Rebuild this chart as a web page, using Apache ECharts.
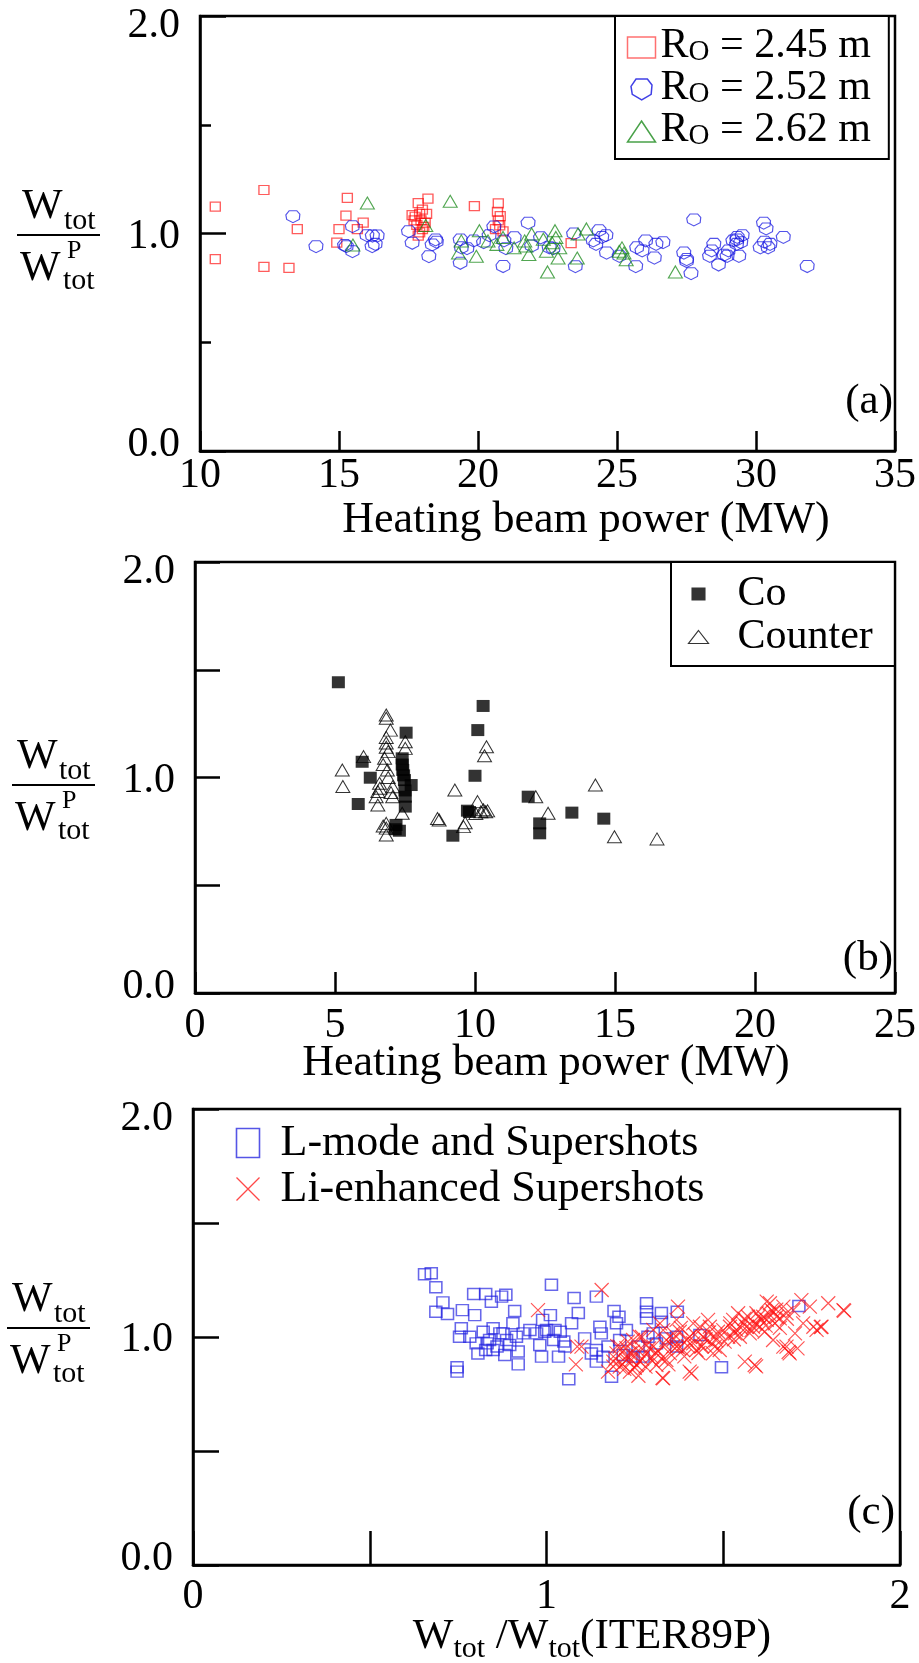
<!DOCTYPE html>
<html><head><meta charset="utf-8">
<script src="https://cdn.jsdelivr.net/npm/echarts@6/dist/echarts.min.js"></script>
<style>html,body{margin:0;padding:0;background:#fff}#c{width:919px;height:1663px}</style>
</head><body><div id="c"></div>
<script>
// ---------- Panel (a): heating beam power (MW) vs Wtot/WtotP ----------
const ro245 = [[10.55,1.124],[10.55,0.882],[12.3,1.20],[12.3,0.847],[13.2,0.842],[13.5,1.02],[15.3,1.164],[15.25,1.082],[15.0,1.02],[14.92,0.958],[15.66,1.02],[15.87,1.05],[17.85,1.14],[18.2,1.16],[17.74,1.077],[17.95,1.06],[17.8,1.04],[18.05,1.03],[17.9,1.005],[18.15,1.09],[17.63,1.085],[18.0,1.11],[17.85,0.99],[18.1,1.05],[17.7,1.06],[17.9,1.09],[18.0,1.02],[19.87,1.126],[20.73,1.139],[20.7,1.10],[20.73,1.06],[20.78,1.037],[20.63,1.02],[20.9,1.01],[20.8,1.08],[23.35,0.956]];
const ro252 = [[13.34,1.077],[14.17,0.939],[15.48,1.031],[15.26,0.939],[15.48,0.916],[15.2,0.945],[16.2,0.988],[16.19,0.939],[16.37,0.988],[16.0,0.99],[16.3,0.95],[17.5,1.008],[17.63,0.955],[18.47,0.97],[18.23,0.893],[18.35,0.947],[18.5,0.96],[19.36,0.97],[19.4,0.934],[19.36,0.863],[19.6,0.93],[19.84,0.966],[20.2,0.958],[20.4,0.99],[20.57,1.03],[20.9,0.848],[20.93,0.966],[21.0,0.93],[21.3,0.98],[21.8,1.047],[21.93,0.942],[22.25,0.98],[22.56,0.934],[22.7,0.93],[23.44,0.998],[23.5,0.847],[24.14,0.966],[24.35,1.013],[24.45,0.982],[24.24,0.95],[24.6,0.99],[24.62,0.91],[25.08,0.895],[25.71,0.934],[25.67,0.847],[25.9,0.92],[26.03,0.966],[26.34,0.887],[26.4,0.95],[26.65,0.958],[27.4,0.91],[27.5,0.871],[27.5,0.88],[27.66,0.815],[27.76,1.062],[28.33,0.895],[28.4,0.92],[28.48,0.95],[28.65,0.855],[28.85,0.90],[28.96,0.895],[29.0,0.92],[29.17,0.966],[29.3,0.95],[29.31,0.97],[29.32,0.982],[29.45,0.958],[29.38,0.895],[29.5,0.99],[30.15,0.934],[30.27,1.047],[30.3,0.96],[30.36,1.021],[30.43,0.934],[30.5,0.95],[30.98,0.982],[31.84,0.848]];
const ro262 = [[16.02,1.14],[15.5,0.947],[19.0,1.148],[18.12,1.037],[19.3,0.91],[19.4,0.966],[19.94,0.895],[20.05,1.013],[20.36,0.966],[20.68,0.95],[20.9,0.982],[21.3,0.934],[21.68,0.966],[21.72,0.942],[21.83,0.903],[21.93,0.998],[22.35,0.974],[22.46,0.918],[22.5,0.823],[22.66,0.958],[22.77,1.013],[22.88,0.887],[22.94,0.934],[22.8,0.982],[23.57,0.887],[23.6,0.998],[23.9,1.021],[25.08,0.918],[25.18,0.934],[25.25,0.91],[25.33,0.879],[27.1,0.823]];

// ---------- Panel (b) ----------
const coBeam = [[5.12,1.442],[10.29,1.332],[10.1,1.22],[7.54,1.208],[5.97,1.073],[6.26,0.999],[5.83,0.877],[7.40,1.089],[7.42,1.035],[7.48,0.988],[7.72,0.965],[7.51,0.911],[7.51,0.865],[7.18,0.78],[7.3,0.753],[7.15,0.76],[7.4,1.06],[7.45,1.01],[7.5,0.94],[10.0,1.008],[9.73,0.846],[9.8,0.84],[9.21,0.73],[11.9,0.911],[12.31,0.787],[12.31,0.741],[13.46,0.837],[14.6,0.809]];
const counterBeam = [[5.26,1.035],[5.28,0.958],[6.02,1.097],[6.83,1.29],[6.83,1.275],[6.98,1.22],[6.83,1.186],[6.83,1.16],[6.83,1.14],[6.9,1.12],[7.51,1.166],[7.51,1.135],[6.77,1.089],[6.87,1.035],[6.72,1.06],[6.9,1.0],[6.59,0.973],[6.6,0.95],[6.53,0.935],[6.47,0.911],[6.53,0.872],[7.0,0.93],[7.06,0.957],[7.06,0.911],[7.4,0.834],[6.83,0.787],[6.83,0.765],[6.83,0.733],[6.72,0.775],[9.28,0.942],[8.72,0.803],[8.66,0.81],[9.59,0.772],[9.65,0.79],[10.41,1.143],[10.34,1.101],[10.09,0.888],[10.21,0.841],[10.3,0.85],[10.38,0.841],[10.45,0.845],[10.03,0.833],[12.17,0.911],[12.61,0.834],[14.3,0.965],[14.98,0.725],[16.5,0.715]];

// ---------- Panel (c) ----------
const lmode = [[0.655,1.275],[0.674,1.28],[0.687,1.218],[0.707,1.152],[0.687,1.111],[0.72,1.101],[0.762,1.118],[0.794,1.189],[0.828,1.189],[0.844,1.155],[0.873,1.177],[0.885,1.185],[0.91,1.114],[1.014,1.229],[1.078,1.171],[1.141,1.177],[0.797,1.096],[1.011,1.096],[1.09,1.105],[1.191,1.114],[1.205,1.089],[1.283,1.148],[1.283,1.111],[1.283,1.082],[1.325,1.105],[1.37,1.111],[1.325,1.067],[1.714,1.136],[1.495,0.867],[1.063,0.815],[0.747,0.867],[0.747,0.848],[0.92,0.88],[0.986,0.914],[1.034,0.914],[1.052,0.958],[0.92,0.936],[0.828,0.943],[0.832,0.972],[0.86,0.958],[0.887,0.987],[0.759,1.038],[0.783,1.001],[0.821,1.023],[0.849,1.038],[0.868,1.016],[0.905,1.06],[0.915,1.001],[0.953,1.031],[0.972,1.016],[0.989,1.075],[1.0,1.031],[1.024,1.031],[1.039,1.023],[1.071,1.06],[1.108,0.994],[1.151,1.045],[1.155,1.016],[1.141,0.943],[1.141,0.892],[1.16,0.914],[1.174,0.958],[1.184,0.826],[1.207,0.987],[1.217,0.921],[1.245,0.914],[1.273,0.914],[1.302,1.016],[1.311,0.972],[1.339,0.994],[1.368,1.001],[1.368,0.958],[1.434,1.009],[0.754,1.001],[0.801,0.972],[0.839,0.987],[0.877,1.016],[0.896,0.965],[0.934,1.016],[0.981,0.965],[1.02,0.987],[1.049,0.98],[0.806,0.928],[0.849,0.943],[0.882,0.921],[0.995,1.023],[1.127,0.928],[1.198,1.06],[1.226,1.031],[1.259,0.958],[1.287,1.001]];
const liSuper = [[1.156,1.206],[0.976,1.118],[1.083,0.88],[1.087,0.958],[1.099,0.958],[1.174,0.848],[1.189,0.892],[1.207,0.87],[1.226,0.899],[1.236,0.848],[1.245,0.936],[1.264,0.892],[1.283,0.965],[1.297,0.914],[1.311,0.877],[1.33,0.819],[1.339,0.987],[1.349,0.928],[1.368,0.958],[1.372,1.133],[1.377,1.023],[1.396,0.987],[1.405,0.848],[1.415,1.06],[1.424,0.943],[1.443,1.001],[1.457,1.075],[1.467,0.972],[1.476,0.958],[1.485,1.023],[1.504,0.98],[1.519,1.045],[1.528,1.075],[1.533,1.016],[1.542,1.104],[1.556,1.06],[1.561,0.892],[1.57,1.089],[1.584,1.045],[1.589,0.877],[1.594,1.104],[1.608,1.075],[1.617,1.023],[1.623,1.155],[1.637,1.118],[1.641,0.987],[1.651,1.089],[1.67,1.133],[1.679,0.958],[1.688,0.928],[1.703,1.016],[1.721,1.162],[1.745,1.133],[1.755,1.045],[1.778,1.045],[1.797,1.148],[1.84,1.118],[1.368,1.075],[1.198,0.928],[1.207,0.958],[1.245,0.987],[1.264,1.001],[1.302,1.031],[1.321,1.06],[1.358,1.016],[1.386,0.943],[1.405,1.001],[1.434,1.045],[1.462,1.045],[1.49,0.943],[1.471,0.928],[1.537,1.031],[1.575,1.016],[1.603,1.045],[1.623,1.075],[1.641,1.111],[1.66,1.082],[1.632,1.148],[1.698,1.118],[1.236,0.928],[1.283,0.928],[1.339,0.899],[1.302,0.958],[1.358,0.958],[1.415,0.972],[1.438,0.958],[1.476,1.001],[1.514,1.001],[1.547,1.001],[1.566,1.045],[1.589,1.06],[1.613,1.089],[1.646,1.06],[1.679,1.104],[1.726,1.06],[1.764,1.031],[1.67,0.958],[1.226,0.951],[1.189,0.87],[1.255,0.877],[1.311,0.928],[1.328,0.821],[1.41,0.84],[1.593,0.871],[1.685,0.934],[1.842,1.115],[1.776,1.044],[1.71,0.95],[1.195,0.905],[1.215,0.88],[1.225,0.915],[1.24,0.9],[1.25,0.865],[1.26,0.94],[1.27,0.905],[1.28,0.87],[1.29,0.95],[1.3,0.895],[1.315,0.94],[1.325,0.905],[1.335,0.965],[1.345,0.88],[1.36,0.99],[1.375,0.95],[1.39,0.915],[1.4,0.96],[1.42,1.01],[1.43,0.93],[1.45,0.99],[1.46,1.02],[1.48,0.985],[1.5,1.03],[1.52,1.06],[1.53,0.99],[1.55,1.04],[1.56,1.08],[1.58,1.03],[1.6,1.09],[1.62,1.05],[1.63,1.1],[1.65,1.12],[1.66,1.04],[1.68,1.08],[1.2,0.96],[1.23,0.98],[1.27,1.0],[1.33,1.03],[1.38,1.04],[1.44,0.96],[1.26,0.83],[1.22,0.86]];

// ---------- Axis ticks / labels ----------
const xTicksA = [10, 35, 5];
const xTicksB = [0, 25, 5];
const xTicksC = [0, 2, 0.5];
const yTicks = [0, 2, 0.5];
const yLabelText = {0: '0.0', 1: '1.0', 2: '2.0'};
const xTitleBeam = 'Heating beam power (MW)';
const panelTags = ['(a)', '(b)', '(c)'];

const FF = '"Liberation Serif", "Times New Roman", serif';
const BLK = '#000';
const hexPath = 'path://M24,0L78,0L100,29L96,73L51,100L6,73L0,35Z';
const crossPath = 'path://M0,0L100,100M100,0L0,100';

function xAxis(grid, t, tickLen, margin, fmt) {
  return {
    gridIndex: grid, type: 'value', min: t[0], max: t[1], interval: t[2],
    axisLine: {show: true, lineStyle: {color: BLK, width: 2.5}},
    axisTick: {show: true, inside: true, length: tickLen, lineStyle: {color: BLK, width: 2.5}},
    splitLine: {show: false},
    axisLabel: {fontFamily: FF, fontSize: 42, color: BLK, margin: margin, formatter: fmt || (v => String(v))}
  };
}
function yAxis(grid, tickLen, labels) {
  return {
    gridIndex: grid, type: 'value', min: yTicks[0], max: yTicks[1], interval: yTicks[2], position: 'left',
    axisLine: {show: true, lineStyle: {color: BLK, width: 2.5}},
    axisTick: {show: true, inside: true, length: tickLen, lineStyle: {color: BLK, width: 2.5}},
    splitLine: {show: false},
    axisLabel: {
      show: labels, margin: 20, fontFamily: FF, fontSize: 42, color: BLK,
      formatter: v => v === 2 ? '{hi|' + yLabelText[2] + '}' : v === 1 ? '{md|' + yLabelText[1] + '}' : v === 0 ? '{lo|' + yLabelText[0] + '}' : '',
      rich: {
        hi: {fontFamily: FF, fontSize: 42, color: BLK, padding: [20, 0, 0, 0]},
        md: {fontFamily: FF, fontSize: 42, color: BLK, padding: [6, 0, 0, 0]},
        lo: {fontFamily: FF, fontSize: 42, color: BLK, padding: [0, 0, 12, 0]}
      }
    }
  };
}

function frac(x0, yLine) {
  const f = (s, x, y, size) => ({type: 'text', x: x, y: y, silent: true,
    style: {text: s, font: size + 'px ' + FF, fill: BLK, align: 'left', verticalAlign: 'middle', textAlign: 'left', textVerticalAlign: 'middle'}});
  return [
    f('W', x0 + 5, yLine - 28, 43),
    f('tot', x0 + 47, yLine - 14, 30),
    {type: 'line', silent: true, shape: {x1: x0, y1: yLine, x2: x0 + 83, y2: yLine}, style: {stroke: BLK, lineWidth: 2.2}},
    f('W', x0 + 3, yLine + 34, 43),
    f('P', x0 + 50, yLine + 16, 26),
    f('tot', x0 + 46, yLine + 46, 30)
  ];
}
function txt(s, x, y, align, size) {
  return {type: 'text', x: x, y: y, silent: true,
    style: {text: s, font: (size || 42) + 'px ' + FF, fill: BLK, align: align, verticalAlign: 'middle', textAlign: align, textVerticalAlign: 'middle'}};
}

const chart = echarts.init(document.getElementById('c'));
const option = {
  animation: false,
  backgroundColor: '#fff',
  grid: [
    {left: 200, top: 16, width: 699, height: 435, show: true, borderColor: BLK, borderWidth: 2.5},
    {left: 195, top: 562, width: 702, height: 431, show: true, borderColor: BLK, borderWidth: 2.5},
    {left: 193, top: 1109, width: 707, height: 456, show: true, borderColor: BLK, borderWidth: 2.5}
  ],
  xAxis: [
    xAxis(0, xTicksA, 20, 4),
    xAxis(1, xTicksB, 21, 12),
    xAxis(2, xTicksC, 34, 11, v => (Math.abs(v - Math.round(v)) < 1e-9 ? String(v) : ''))
  ],
  yAxis: [
    yAxis(0, 11, true),
    Object.assign(yAxis(0, 26, false), {interval: 1, axisLine: {show: false}}),
    yAxis(1, 25, true),
    yAxis(2, 26, true)
  ],
  legend: [
    {
      left: 615, top: 16, orient: 'vertical', selectedMode: false, symbolKeepAspect: true,
      itemWidth: 28, itemHeight: 21, itemGap: 0, padding: [9, 18, 8, 10],
      borderColor: BLK, borderWidth: 2, backgroundColor: '#fff',
      data: [
        {name: 'Ro = 2.45 m', icon: 'rect', itemStyle: {color: 'none', borderColor: 'rgba(255,0,0,0.7)', borderWidth: 1.5}},
        {name: 'Ro = 2.52 m', icon: hexPath, itemStyle: {color: 'none', borderColor: '#1010e0', borderWidth: 1.5}},
        {name: 'Ro = 2.62 m', icon: 'triangle', itemStyle: {color: 'none', borderColor: '#1a8a1a', borderWidth: 1.5}}
      ],
      formatter: n => '{r|R}{o|O}{r|' + n.slice(2) + '}',
      textStyle: {fontFamily: FF, fontSize: 42, color: BLK,
        rich: {r: {fontFamily: FF, fontSize: 42, color: BLK, lineHeight: 39, verticalAlign: 'bottom'},
               o: {fontFamily: FF, fontSize: 29, color: BLK, lineHeight: 30, verticalAlign: 'bottom'}}}
    },
    {
      left: 671, top: 562, orient: 'vertical', selectedMode: false, symbolKeepAspect: true,
      itemWidth: 20, itemHeight: 13, itemGap: 1, padding: [11, 22, 8, 15],
      borderColor: BLK, borderWidth: 2, backgroundColor: '#fff',
      data: [
        {name: 'Co', icon: 'path://M0,0L13,0L13,12L0,12Z', itemStyle: {color: BLK, borderWidth: 0}},
        {name: 'Counter', icon: 'triangle', itemStyle: {color: 'none', borderColor: BLK, borderWidth: 1.2}}
      ],
      formatter: n => '{t|' + n + '}',
      textStyle: {fontFamily: FF, fontSize: 42, color: BLK,
        rich: {t: {fontFamily: FF, fontSize: 42, color: BLK, lineHeight: 42, padding: [0, 0, 0, 24]}}}
    },
    {
      left: 229, top: 1116, orient: 'vertical', selectedMode: false,
      itemWidth: 23, itemHeight: 29, itemGap: 2, padding: 5,
      data: [
        {name: 'L-mode and Supershots', icon: 'rect', itemStyle: {color: 'none', borderColor: '#2a2ae0', borderWidth: 1.6}},
        {name: 'Li-enhanced Supershots', icon: crossPath, itemStyle: {color: 'none', borderColor: '#ff1a1a', borderWidth: 1.3}}
      ],
      formatter: n => '{t|' + n + '}',
      textStyle: {fontFamily: FF, fontSize: 44, color: BLK,
        rich: {t: {fontFamily: FF, fontSize: 44, color: BLK, lineHeight: 43, padding: [0, 0, 0, 16]}}}
    }
  ],
  series: [
    {type: 'scatter', name: 'Ro = 2.45 m', xAxisIndex: 0, yAxisIndex: 0, data: ro245, symbol: 'rect', symbolSize: [10, 9],
     itemStyle: {color: 'none', borderColor: 'rgba(255,0,0,0.8)', borderWidth: 1.3}, silent: true},
    {type: 'scatter', name: 'Ro = 2.52 m', xAxisIndex: 0, yAxisIndex: 0, data: ro252, symbol: hexPath, symbolSize: [14, 12],
     itemStyle: {color: 'none', borderColor: 'rgba(16,16,224,0.9)', borderWidth: 1.1}, silent: true},
    {type: 'scatter', name: 'Ro = 2.62 m', xAxisIndex: 0, yAxisIndex: 0, data: ro262, symbol: 'triangle', symbolSize: [14, 12],
     itemStyle: {color: 'none', borderColor: 'rgba(26,138,26,0.95)', borderWidth: 1.1}, silent: true},
    {type: 'scatter', name: 'Co', xAxisIndex: 1, yAxisIndex: 2, data: coBeam, symbol: 'rect', symbolSize: [13, 12],
     itemStyle: {color: BLK}, silent: true},
    {type: 'scatter', name: 'Counter', xAxisIndex: 1, yAxisIndex: 2, data: counterBeam, symbol: 'triangle', symbolSize: [14, 12],
     itemStyle: {color: 'none', borderColor: BLK, borderWidth: 1}, silent: true},
    {type: 'scatter', name: 'L-mode and Supershots', xAxisIndex: 2, yAxisIndex: 3, data: lmode, symbol: 'rect', symbolSize: [12, 11],
     itemStyle: {color: 'none', borderColor: 'rgba(32,32,224,0.85)', borderWidth: 1.5}, silent: true},
    {type: 'scatter', name: 'Li-enhanced Supershots', xAxisIndex: 2, yAxisIndex: 3, data: liSuper, symbol: crossPath, symbolSize: 14,
     itemStyle: {color: 'none', borderColor: 'rgba(255,20,20,0.9)', borderWidth: 1.2}, silent: true}
  ],
  graphic: [].concat(
    frac(17, 235), frac(12, 785), frac(7, 1328),
    [
      txt(panelTags[0], 893, 402, 'right', 43),
      txt(panelTags[1], 893, 959, 'right', 43),
      txt(panelTags[2], 895, 1513, 'right', 43),
      txt(xTitleBeam, 586, 520, 'center', 44),
      txt(xTitleBeam, 546, 1063, 'center', 44),
      {type: 'text', x: 592, y: 1640, silent: true,
       style: {text: '{w|W}{s|tot}{w| /W}{s|tot}{w|(ITER89P)}', fill: BLK, align: 'center', verticalAlign: 'middle', textAlign: 'center', textVerticalAlign: 'middle',
         rich: {w: {font: '43px ' + FF, fill: BLK, color: BLK, padding: [0, 0, 6, 0], verticalAlign: 'bottom'},
                s: {font: '30px ' + FF, fill: BLK, color: BLK, verticalAlign: 'bottom'}}}}
    ]
  )
};
chart.setOption(option);
</script>
</body></html>
